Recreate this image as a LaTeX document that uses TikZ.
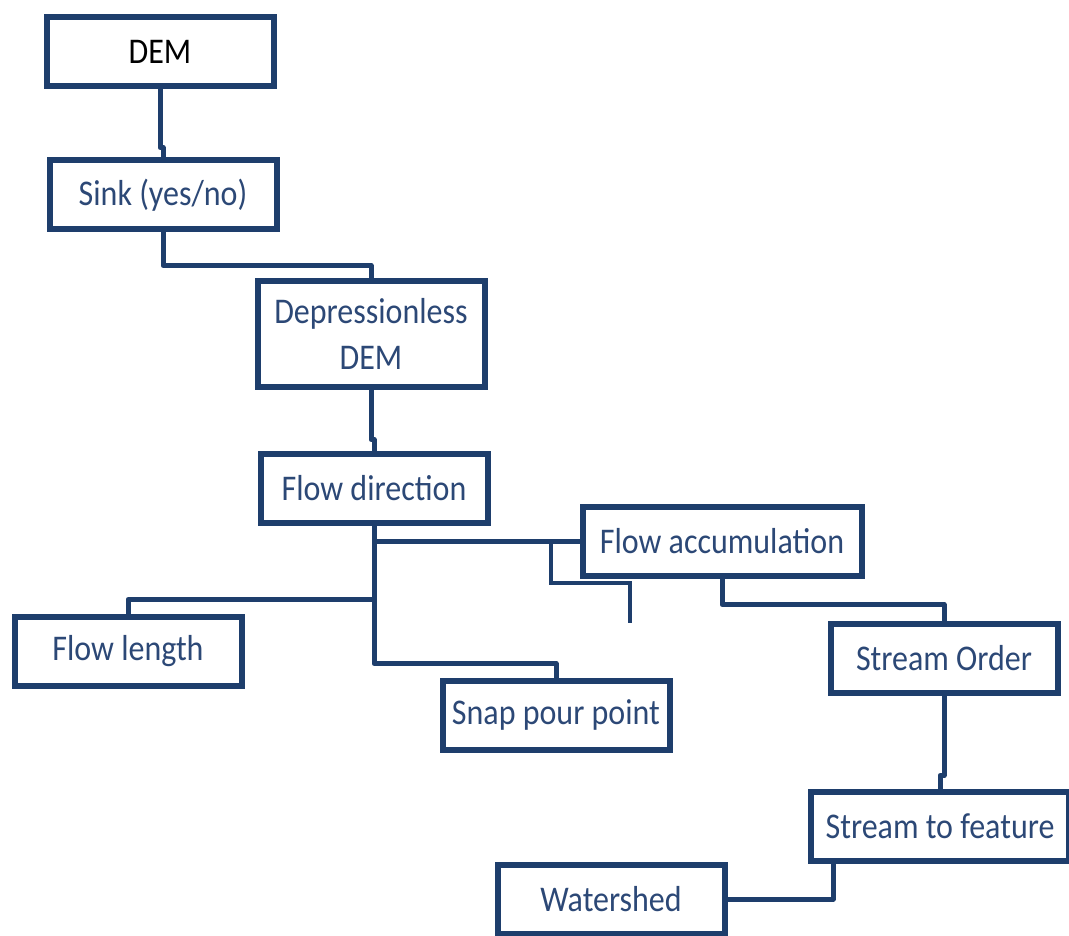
\documentclass[tikz,border=0pt]{standalone}
\usepackage{fontspec}
\setmainfont{Carlito}
\usetikzlibrary{positioning, calc}
\definecolor{boxLine}{RGB}{30,62,108}
\definecolor{boxText}{RGB}{44,72,118}
\newcommand{\tallText}[1]{\scalebox{1}[1.13]{#1}}
\tikzstyle{stepBox}=[draw=boxLine, line width=6pt, rectangle, minimum width=227pt, minimum height=69pt, inner sep=2pt, text=boxText, align=center, font=\fontsize{32}{46}\selectfont]
\tikzstyle{link}=[draw=boxLine, line width=5pt, line join=round]
\tikzstyle{strayLink}=[draw=boxLine, line width=4pt]

\begin{document}
\begin{tikzpicture}[x=1pt, y=-1pt]
        \useasboundingbox (0, 0) rectangle (1069, 936);

        \node[stepBox, text=black] (dem) at (160, 52) {\tallText{DEM}};
        \node[stepBox] (sink) at (163, 195) {\tallText{Sink (yes/no)}};
        \node[stepBox, minimum height=105pt] (depr) at (371, 334) {\tallText{Depressionless}\\\tallText{DEM}};
        \node[stepBox] (flowdir) at (374, 488) {\tallText{Flow direction}};
        \node[stepBox, minimum width=279pt] (flowacc) at (722, 541) {\tallText{Flow accumulation}};
        \node[stepBox] (flowlen) at (128, 651) {\tallText{Flow length}};
        \node[stepBox] (snap) at (556, 715) {\tallText{Snap pour point}};
        \node[stepBox] (order) at (944, 658) {\tallText{Stream Order}};
        \node[stepBox, minimum width=258pt] (feature) at (940, 826) {\tallText{Stream to feature}};
        \node[stepBox] (watershed) at (611, 899) {\tallText{Watershed}};

        \draw[link] (dem.south) -- ++(0, 58) -| (sink.north);
        \draw[link] (sink.south) -- ++(0, 33) -| (depr.north);
        \draw[link] (depr.south) -- ++(0, 50) -| (flowdir.north);

        \coordinate (lenJoin) at ($(flowdir.south) + (0, 74)$);
        \draw[link] (flowdir.south) -- ++(0, 138) -| (snap.north);
        \draw[link] (lenJoin) -| (flowlen.north);
        \draw[link] (flowdir.south |- flowacc.west) -- (flowacc.west);

        \coordinate (strayTop) at (551, 541);
        \coordinate (strayEnd) at (630, 623);
        \draw[strayLink] (strayTop) |- (strayEnd |- 0, 583) -- (strayEnd);

        \draw[link] (flowacc.south) -- ++(0, 26) -| (order.north);
        \draw[link] (order.south) -- ++(0, 80) -| (feature.north);
        \draw[link] ([xshift=25pt]feature.south west) |- (watershed.east);
\end{tikzpicture}
\end{document}
